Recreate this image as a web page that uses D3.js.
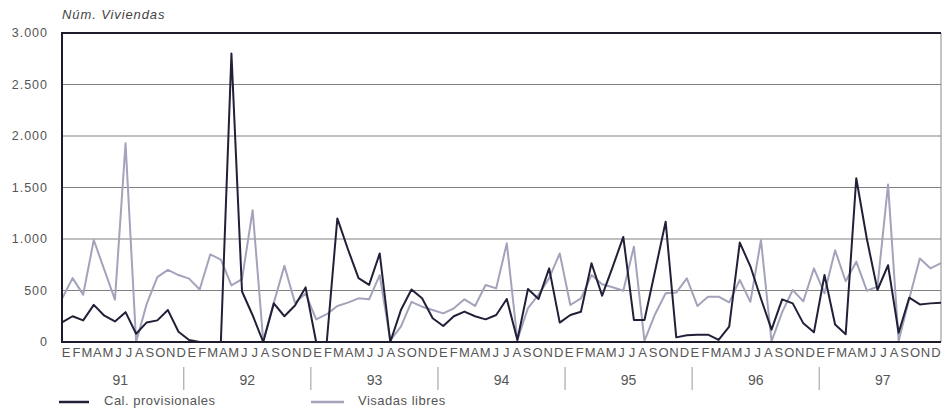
<!DOCTYPE html>
<html><head><meta charset="utf-8">
<script src="https://cdn.jsdelivr.net/npm/d3@7"></script>
<style>
html,body{margin:0;padding:0;background:#fff;}
svg{display:block;font-family:"Liberation Sans",Arial,sans-serif;}
</style></head>
<body><svg id="c" width="942" height="408"></svg>
<script>
const years = ["91","92","93","94","95","96","97"];
const monthLetters = ["E","F","M","A","M","J","J","A","S","O","N","D"];
const yTicks = [0,500,1000,1500,2000,2500,3000];
const seriesNames = ["Cal. provisionales","Visadas libres"];

const calProvisionales = [
  190,250,210,360,255,200,290,80,190,210,310,100,
  20,0,0,0,2800,490,260,0,375,250,355,530,
  0,0,1200,900,620,555,860,0,310,510,425,230,
  155,250,295,250,220,262,418,19,515,418,715,188,
  262,294,764,450,730,1020,214,214,690,1168,45,65,
  71,71,20,149,965,735,420,120,414,375,181,94,
  650,170,75,1590,1000,505,745,90,430,365,375,382
];
const visadasLibres = [
  420,620,460,990,700,410,1930,0,370,630,700,650,
  615,510,850,800,550,610,1280,10,380,740,380,470,
  220,270,350,382,424,414,650,15,150,390,343,311,
  278,327,414,350,553,521,958,19,330,460,620,860,
  359,424,650,560,531,498,925,10,270,473,480,618,
  350,440,440,385,602,390,990,5,290,505,395,715,
  473,890,590,780,498,537,1530,10,420,810,715,765
];

const svg = d3.select("#c");
const x = d3.scaleLinear().domain([0,83]).range([62,941]);
const xLab = d3.scaleLinear().domain([0,83]).range([66,936]);
const y = d3.scaleLinear().domain([0,3000]).range([342,33]);

const fmt = v => d3.format(",")(v).replace(/,/g,".");

// gridlines
svg.append("g").selectAll("line").data(yTicks.filter(t=>t>0&&t<3000)).join("line")
  .attr("x1",x(0)).attr("x2",x(83)).attr("y1",d=>y(d)).attr("y2",d=>y(d))
  .attr("stroke","#808080").attr("stroke-width",1);

// right border
svg.append("line").attr("x1",x(83)).attr("x2",x(83)).attr("y1",y(3000)).attr("y2",y(0))
  .attr("stroke","#8a8a8a").attr("stroke-width",1);

// y labels
svg.append("g").selectAll("text").data(yTicks).join("text")
  .attr("x",48).attr("y",d=>y(d)+4).attr("text-anchor","end")
  .attr("font-size",12.5).attr("letter-spacing",1).attr("fill","#555").text(fmt);

svg.append("text").attr("x",62).attr("y",19).attr("font-size",13).attr("letter-spacing",0.9)
  .attr("font-style","italic").attr("fill","#444").text("Núm. Viviendas");

// lines
const line = d3.line().x((d,i)=>x(i)).y(d=>y(d));
svg.append("path").datum(visadasLibres).attr("d",line).attr("fill","none")
  .attr("stroke","#a3a3bb").attr("stroke-width",2).attr("stroke-linejoin","round");
svg.append("path").datum(calProvisionales).attr("d",line).attr("fill","none")
  .attr("stroke","#202038").attr("stroke-width",2).attr("stroke-linejoin","round");

// frame lines (top, left, bottom)
svg.append("line").attr("x1",x(0)-1).attr("x2",x(83)).attr("y1",y(3000)).attr("y2",y(3000))
  .attr("stroke","#1c1c2c").attr("stroke-width",2);
svg.append("line").attr("x1",x(0)).attr("x2",x(0)).attr("y1",y(3000)).attr("y2",y(0)+1)
  .attr("stroke","#1c1c2c").attr("stroke-width",2);
svg.append("line").attr("x1",x(0)-1).attr("x2",x(83)).attr("y1",y(0)).attr("y2",y(0))
  .attr("stroke","#1c1c2c").attr("stroke-width",2);

// month letters
const months = d3.range(84);
svg.append("g").selectAll("text").data(months).join("text")
  .attr("x",i=>xLab(i)).attr("y",357).attr("text-anchor","middle")
  .attr("font-size",13).attr("fill","#555").text(i=>monthLetters[i%12]);

// years
svg.append("g").selectAll("text").data(years).join("text")
  .attr("x",(d,k)=>x(k*12+5.5)).attr("y",385).attr("text-anchor","middle")
  .attr("font-size",14).attr("fill","#555").text(d=>d);
svg.append("g").selectAll("line").data(d3.range(1,7)).join("line")
  .attr("x1",k=>x(k*12-0.5)).attr("x2",k=>x(k*12-0.5)).attr("y1",367).attr("y2",390)
  .attr("stroke","#999").attr("stroke-width",1);

// legend
const leg = [{n:seriesNames[0],c:"#202038",x1:59,x2:89,tx:104},{n:seriesNames[1],c:"#a3a3bb",x1:311,x2:344,tx:358}];
leg.forEach(l=>{
  svg.append("line").attr("x1",l.x1).attr("x2",l.x2).attr("y1",402).attr("y2",402)
    .attr("stroke",l.c).attr("stroke-width",2.5);
  svg.append("text").attr("x",l.tx).attr("y",405).attr("font-size",13).attr("letter-spacing",0.5)
    .attr("fill","#555").text(l.n);
});
</script></body></html>
